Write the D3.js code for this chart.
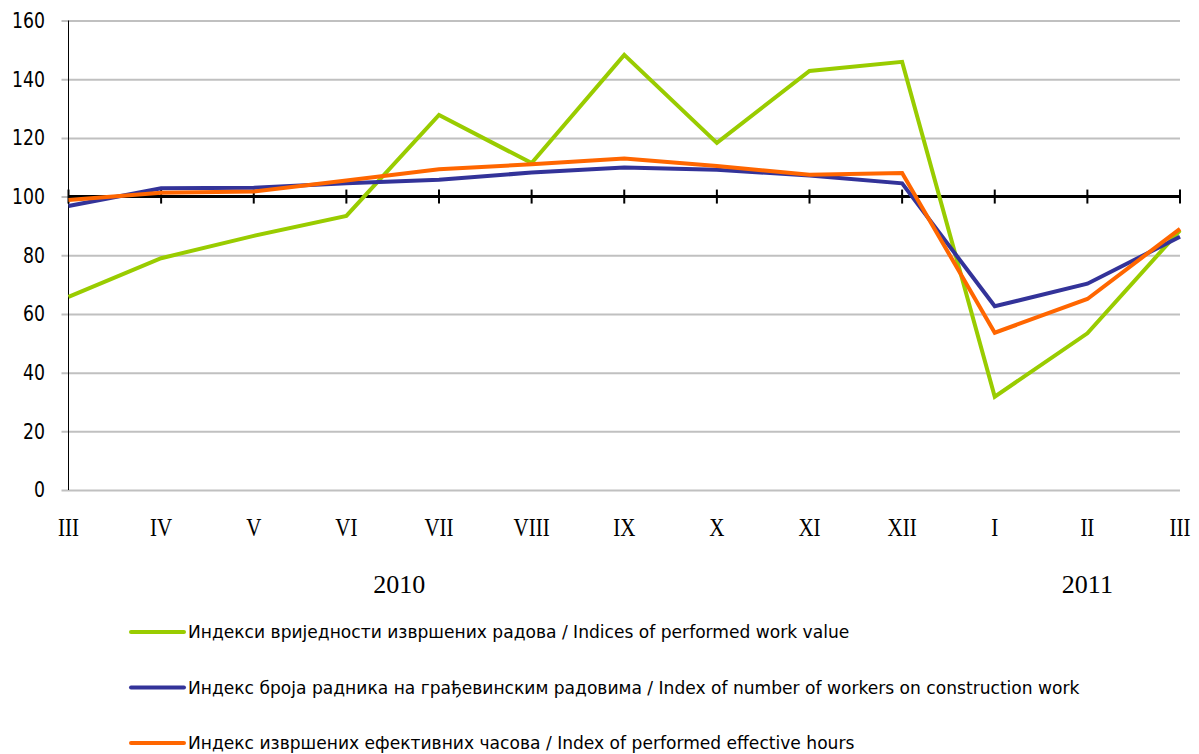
<!DOCTYPE html>
<html>
<head>
<meta charset="utf-8">
<script src="https://cdn.jsdelivr.net/npm/d3@7"></script>
<style>
  body { margin: 0; background: #fff; }
  svg { display: block; }
  .ylab { font-family: "DejaVu Sans", Verdana, sans-serif; font-size: 17.3px; fill: #000; }
  .xlab { font-family: "Liberation Serif", "Times New Roman", serif; font-size: 21px; fill: #000; }
  .year { font-family: "Liberation Serif", "Times New Roman", serif; font-size: 26px; fill: #000; }
  .legend text { font-family: "DejaVu Sans", Verdana, sans-serif; font-size: 17.1px; fill: #000; }
</style>
</head>
<body>
<svg id="chart" width="1199" height="754"></svg>
<script>
(function() {
  'use strict';

  // month labels on the category axis
  var months = ['III', 'IV', 'V', 'VI', 'VII', 'VIII', 'IX', 'X', 'XI', 'XII', 'I', 'II', 'III'];
  var years = [{label: '2010', at: 3.57}, {label: '2011', at: 11.0}];

  // series values
  var workValue = [65.8, 79, 86.6, 93.4, 127.8, 111.4, 148.3, 118.3, 142.8, 145.9, 31.8, 53.4, 88.5];
  var workers = [96.8, 102.8, 103, 104.5, 105.7, 108.2, 109.9, 109.1, 107.2, 104.5, 62.6, 70.3, 86.3];
  var hours = [98.8, 101.3, 101.7, 105.5, 109.3, 111, 113, 110.4, 107.4, 108, 53.6, 65.1, 89];

  var yTicks = [0, 20, 40, 60, 80, 100, 120, 140, 160];

  var series = [
    {name: 'Индекси вриједности извршених радова / Indices of performed work value', values: workValue, color: '#99cc00'},
    {name: 'Индекс броја радника на грађевинским радовима / Index of number of workers on construction work', values: workers, color: '#333399'},
    {name: 'Индекс извршених ефективних часова / Index of performed effective hours', values: hours, color: '#ff6600'}
  ];

  var svg = d3.select('#chart');
  var plotL = 68.5, plotR = 1180, plotT = 20.5, plotB = 490;

  var x = d3.scaleLinear().domain([0, months.length - 1]).range([plotL, plotR]);
  var y = d3.scaleLinear().domain([0, 160]).range([plotB, plotT]);

  // gridlines
  var yAxis = d3.axisLeft(y).tickValues(yTicks).tickSize(-(plotR - plotL)).tickFormat('');
  var gy = svg.append('g').attr('transform', 'translate(' + plotL + ',0)').call(yAxis);
  gy.select('.domain').remove();
  gy.selectAll('line').attr('stroke', '#c0c0c0').attr('stroke-width', 2).attr('x1', -7);

  // y labels, a bit taller than the font draws them
  svg.selectAll('.ylab').data(yTicks).enter().append('text')
    .attr('class', 'ylab')
    .attr('text-anchor', 'end')
    .attr('dy', '0.36em')
    .attr('transform', function(d) { return 'translate(45,' + y(d) + ') scale(1,1.2)'; })
    .text(function(d) { return d; });

  // left axis line
  svg.append('line')
    .attr('x1', plotL).attr('x2', plotL).attr('y1', plotT).attr('y2', plotB)
    .attr('stroke', '#000').attr('stroke-width', 1);

  // category axis crosses at 100
  var gx = svg.append('g').attr('transform', 'translate(0,' + y(100) + ')');
  gx.append('line').attr('x1', plotL).attr('x2', plotR).attr('stroke', '#000').attr('stroke-width', 3);
  gx.selectAll('.tk').data(months).enter().append('line')
    .attr('class', 'tk')
    .attr('x1', function(d, i) { return x(i); })
    .attr('x2', function(d, i) { return x(i); })
    .attr('y1', -7).attr('y2', 7)
    .attr('stroke', '#000').attr('stroke-width', 2);

  svg.selectAll('.xlab').data(months).enter().append('text')
    .attr('class', 'xlab')
    .attr('text-anchor', 'middle')
    .attr('transform', function(d, i) { return 'translate(' + x(i) + ',536) scale(1,1.15)'; })
    .text(function(d) { return d; });

  svg.selectAll('.year').data(years).enter().append('text')
    .attr('class', 'year')
    .attr('x', function(d) { return x(d.at); })
    .attr('y', 592.5)
    .attr('text-anchor', 'middle')
    .text(function(d) { return d.label; });

  var line = d3.line()
    .x(function(d, i) { return x(i); })
    .y(function(d) { return y(d); });

  svg.selectAll('.series').data(series).enter().append('path')
    .attr('class', 'series')
    .attr('d', function(d) { return line(d.values); })
    .attr('fill', 'none')
    .attr('stroke', function(d) { return d.color; })
    .attr('stroke-width', 4)
    .attr('stroke-linejoin', 'miter');

  // legend
  var lg = svg.selectAll('.legend').data(series).enter().append('g')
    .attr('class', 'legend')
    .attr('transform', function(d, i) { return 'translate(130,' + (632 + i * 55.5) + ')'; });
  lg.append('line').attr('x1', 1).attr('x2', 54)
    .attr('stroke', function(d) { return d.color; })
    .attr('stroke-width', 4).attr('stroke-linecap', 'round');
  lg.append('text').attr('x', 58).attr('dy', '0.35em').text(function(d) { return d.name; });
})();
</script>
</body>
</html>
